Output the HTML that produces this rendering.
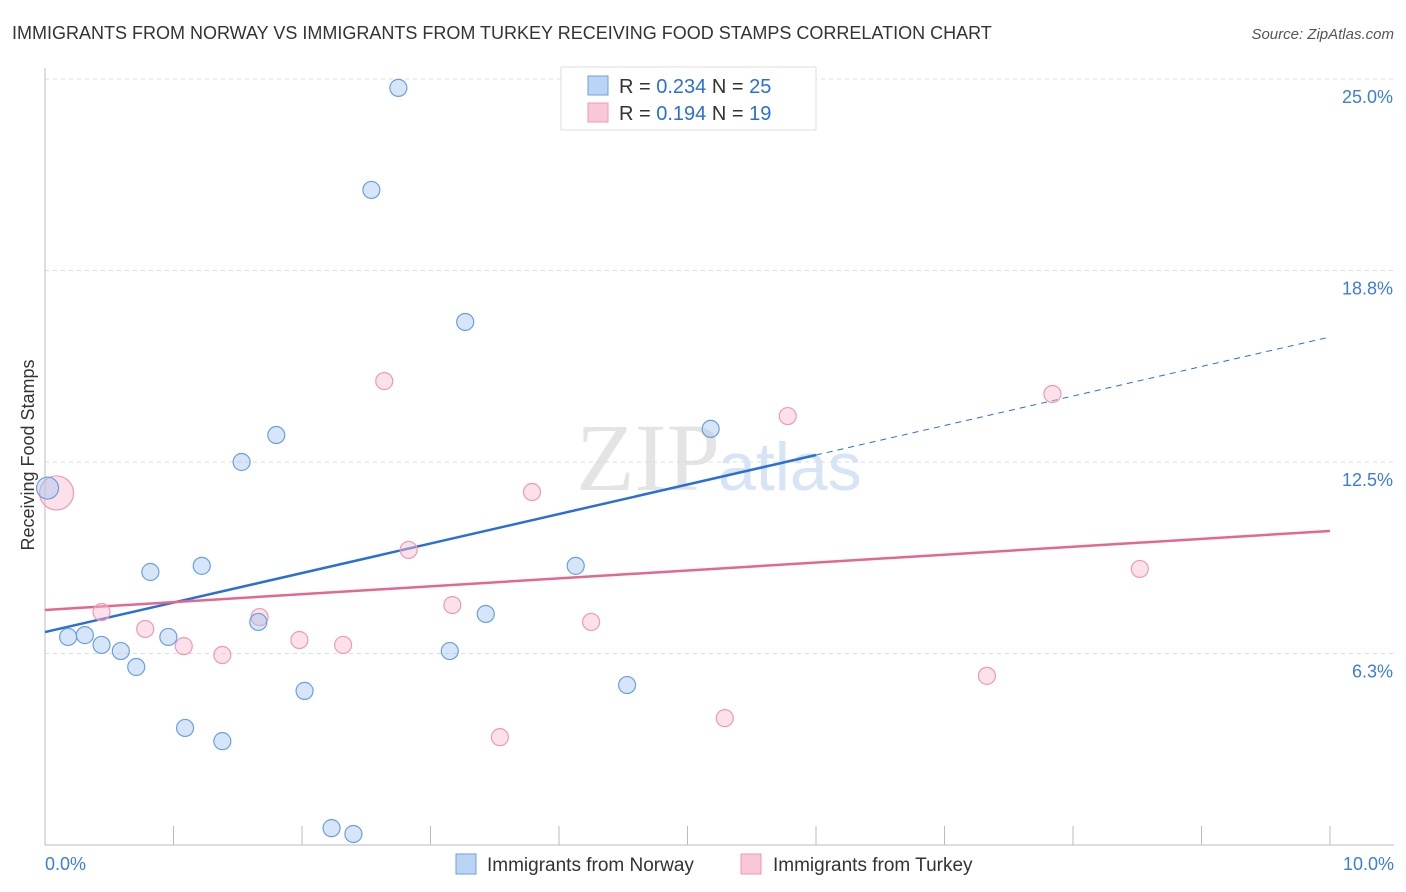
<!DOCTYPE html>
<html><head><meta charset="utf-8"><style>
body{margin:0;background:#fff;font-family:"Liberation Sans",sans-serif}
svg{display:block}
</style></head><body>
<svg id="c" width="1406" height="892">
<text x="12" y="39" font-size="18" fill="#333">IMMIGRANTS FROM NORWAY VS IMMIGRANTS FROM TURKEY RECEIVING FOOD STAMPS CORRELATION CHART</text>
<text x="1394" y="39" font-size="15" fill="#555" font-style="italic" text-anchor="end">Source: ZipAtlas.com</text>
<text x="720" y="490" font-size="96" fill="#e4e4e4" font-family="Liberation Serif,serif" text-anchor="end">ZIP</text>
<text x="718" y="490" font-size="68" fill="#d6e4f5">atlas</text>
<text transform="translate(34,455) rotate(-90)" font-size="18" fill="#333" text-anchor="middle">Receiving Food Stamps</text>
<g id="grid"></g><g id="lines"></g><g id="pts"></g>
<g>
<rect x="561" y="67" width="255" height="63" fill="#fff" stroke="#ddd"/>
<rect x="588" y="76" width="20" height="19" fill="#b9d4f5" stroke="#6a9fe0"/>
<rect x="588" y="103" width="20" height="19" fill="#f9c8d8" stroke="#ee9ab5"/>
<text x="619" y="93" font-size="20" fill="#333">R = <tspan fill="#2a6fd6">0.234</tspan>   N = <tspan fill="#2a6fd6">25</tspan></text>
<text x="619" y="120" font-size="20" fill="#333">R =  <tspan fill="#2a6fd6">0.194</tspan>   N =  <tspan fill="#2a6fd6">19</tspan></text>
</g>
<g>
<rect x="456" y="854" width="20" height="20" fill="#b9d4f5" stroke="#6a9fe0"/>
<text x="487" y="871" font-size="19" fill="#333">Immigrants from Norway</text>
<rect x="741" y="854" width="20" height="20" fill="#f9c8d8" stroke="#ee9ab5"/>
<text x="773" y="871" font-size="19" fill="#333">Immigrants from Turkey</text>
</g>
</svg>
<script>
const blueX=[0.02,0.18,0.31,0.44,0.59,0.71,0.82,0.96,1.09,1.22,1.38,1.53,1.66,1.80,2.02,2.23,2.40,2.54,2.75,3.15,3.27,3.43,4.13,4.53,5.18];
const blueY=[11.65,6.79,6.85,6.53,6.33,5.81,8.91,6.79,3.82,9.11,3.39,12.50,7.28,13.38,5.03,0.55,0.36,21.38,24.71,6.33,17.07,7.54,9.11,5.22,13.58];
const pinkX=[0.09,0.44,0.78,1.08,1.38,1.67,1.98,2.32,2.64,2.83,3.17,3.54,3.79,4.25,5.29,5.78,7.33,7.84,8.52];
const pinkY=[11.49,7.60,7.05,6.49,6.20,7.44,6.69,6.53,15.14,9.63,7.83,3.52,11.52,7.28,4.14,14.00,5.52,14.72,9.01];
const yTicks=[6.25,12.5,18.75,25];
const yTickLabels=["6.3%","12.5%","18.8%","25.0%"];
const blueTrend=[6.95,16.58];
const pinkTrend=[7.67,10.25];
const NS="http://www.w3.org/2000/svg";
const X=v=>45+v*128.5, Y=v=>845-v*30.64;
function mk(t,a,p){const e=document.createElementNS(NS,t);for(const k in a)e.setAttribute(k,a[k]);p.appendChild(e);return e;}
const g=document.getElementById('grid');
yTicks.forEach((t,i)=>{
 const l=mk('line',{x1:45,x2:1394,y1:Y(t),y2:Y(t),stroke:'#ddd','stroke-dasharray':'4,4'},g);
 
 
 const tx=mk('text',{x:1393,y:Y(t)+24,'font-size':18,fill:'#3b7dd8','text-anchor':'end'},g);
 tx.textContent=yTickLabels[i];
 
 
});
mk('line',{x1:45,x2:45,y1:68,y2:845,stroke:'#bbb'},g);
mk('line',{x1:45,x2:1394,y1:845,y2:845,stroke:'#bbb'},g);
for(let i=1;i<=10;i++){mk('line',{x1:X(i),x2:X(i),y1:826,y2:845,stroke:'#bbb'},g);}
const x0=mk('text',{x:45,y:870,'font-size':18,fill:'#3b7dd8'},g);x0.textContent='0.0%';


const x1=mk('text',{x:1394,y:870,'font-size':18,fill:'#3b7dd8','text-anchor':'end'},g);x1.textContent='10.0%';


const L=document.getElementById('lines');
const bAt=v=>blueTrend[0]+(blueTrend[1]-blueTrend[0])*v/10;
let l1=mk('line',{x1:X(0),y1:Y(bAt(0)),x2:X(6),y2:Y(bAt(6)),stroke:'#2a6fd6','stroke-width':2.5},L);


let l2=mk('line',{x1:X(6),y1:Y(bAt(6)),x2:X(10),y2:Y(bAt(10)),stroke:'#2a6fd6','stroke-width':1,'stroke-dasharray':'6,5'},L);


let l3=mk('line',{x1:X(0),y1:Y(pinkTrend[0]),x2:X(10),y2:Y(pinkTrend[1]),stroke:'#e4678f','stroke-width':2.5},L);


const P=document.getElementById('pts');
pinkX.forEach((v,i)=>{const c=mk('circle',{cx:X(v),cy:Y(pinkY[i]),r:i==0?17:8.5,fill:'rgba(248,187,208,0.45)',stroke:'#ee9ab5','stroke-width':1.2},P);

});
blueX.forEach((v,i)=>{const c=mk('circle',{cx:X(v),cy:Y(blueY[i]),r:i==0?11:8.5,fill:'rgba(164,199,240,0.45)',stroke:'#6a9fe0','stroke-width':1.2},P);

});
</script>
</body></html>
